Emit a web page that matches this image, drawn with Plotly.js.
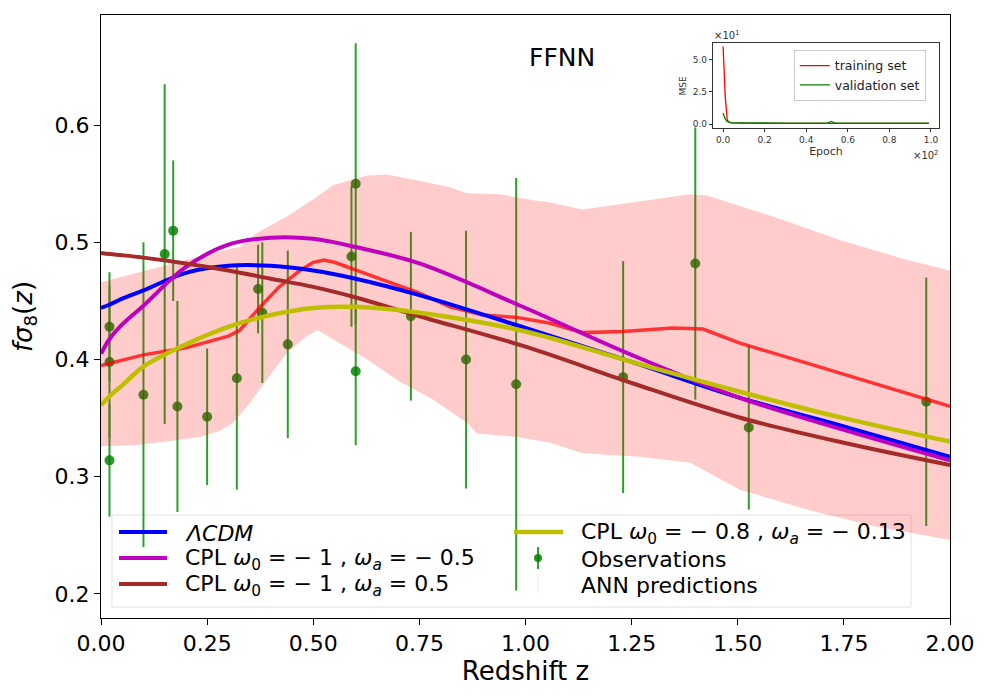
<!DOCTYPE html>
<html>
<head>
<meta charset="utf-8">
<script src="https://cdn.plot.ly/plotly-3.0.1.min.js"></script>
<style>html,body{margin:0;padding:0;background:#fff}#chart{width:1000px;height:700px}</style>
</head>
<body>
<div id="chart"></div>
<script>
// Observations
const obsZ   = [0.02, 0.02, 0.02, 0.10, 0.15, 0.17, 0.18, 0.25, 0.32, 0.37, 0.38, 0.44, 0.59, 0.60, 0.60, 0.73, 0.86, 0.978, 1.23, 1.40, 1.526, 1.944];
const obsF   = [0.428, 0.398, 0.314, 0.37, 0.49, 0.51, 0.36, 0.3512, 0.384, 0.4602, 0.44, 0.413, 0.488, 0.39, 0.55, 0.437, 0.40, 0.379, 0.385, 0.482, 0.342, 0.364];
const obsErr = [0.0465, 0.065, 0.048, 0.13, 0.145, 0.06, 0.09, 0.0583, 0.095, 0.0378, 0.06, 0.08, 0.06, 0.063, 0.12, 0.072, 0.11, 0.176, 0.099, 0.116, 0.070, 0.106];

// Model curves
const zModel  = [0, 0.021, 0.05, 0.1, 0.2, 0.3, 0.4, 0.5, 0.6, 0.75, 1.0, 1.25, 1.5, 1.75, 2.0];
const lcdm    = [0.444, 0.447, 0.452, 0.459, 0.474, 0.480, 0.480, 0.476, 0.469, 0.455, 0.427, 0.398, 0.368, 0.343, 0.317];
const cplA    = [0.405, 0.418, 0.430, 0.446, 0.479, 0.498, 0.504, 0.503, 0.496, 0.482, 0.444, 0.404, 0.368, 0.340, 0.314];
const cplB    = [0.491, 0.490, 0.489, 0.487, 0.482, 0.476, 0.469, 0.462, 0.453, 0.437, 0.411, 0.380, 0.351, 0.329, 0.310];
const cplC    = [0.361, 0.369, 0.378, 0.394, 0.413, 0.428, 0.438, 0.444, 0.445, 0.440, 0.424, 0.398, 0.373, 0.350, 0.330];

// ANN predictions: mean curve
const zMean   = [0, 0.1, 0.2, 0.3, 0.327, 0.375, 0.42, 0.469, 0.50, 0.525, 0.55, 0.587, 0.664, 0.749, 0.822, 0.9, 0.98, 1.058, 1.135, 1.229, 1.347, 1.418, 1.505, 1.663, 1.819, 1.946, 2.0];
const annMean = [0.395, 0.404, 0.410, 0.420, 0.425, 0.445, 0.462, 0.476, 0.483, 0.485, 0.483, 0.478, 0.468, 0.457, 0.445, 0.438, 0.436, 0.431, 0.423, 0.424, 0.427, 0.426, 0.414, 0.397, 0.380, 0.366, 0.360];
// ANN predictions: uncertainty band
const zUpper  = [0, 0.155, 0.233, 0.311, 0.327, 0.367, 0.438, 0.509, 0.547, 0.627, 0.674, 0.744, 0.822, 0.862, 0.940, 1.018, 1.058, 1.135, 1.270, 1.388, 1.428, 1.583, 1.741, 1.899, 2.0];
const annUp   = [0.466, 0.481, 0.488, 0.495, 0.496, 0.508, 0.522, 0.539, 0.549, 0.557, 0.558, 0.553, 0.547, 0.542, 0.541, 0.536, 0.534, 0.528, 0.535, 0.541, 0.540, 0.522, 0.502, 0.485, 0.476];
const zLower  = [0, 0.078, 0.155, 0.233, 0.280, 0.311, 0.351, 0.391, 0.438, 0.485, 0.511, 0.547, 0.627, 0.704, 0.782, 0.862, 0.886, 0.980, 1.058, 1.135, 1.270, 1.388, 1.505, 1.663, 1.819, 2.0];
const annLow  = [0.326, 0.327, 0.330, 0.334, 0.339, 0.346, 0.363, 0.383, 0.406, 0.420, 0.425, 0.417, 0.400, 0.381, 0.366, 0.346, 0.337, 0.334, 0.329, 0.320, 0.317, 0.312, 0.289, 0.272, 0.258, 0.246];

// Inset: training history
const epochs   = [0, 1, 2, 3, 4, 6, 10, 20, 24, 30, 40, 50, 52, 54, 60, 70, 80, 90, 99];
const trainMSE = [60, 22, 3.0, 1.5, 1.0, 0.8, 0.7, 0.6, 0.6, 0.6, 0.6, 0.6, 0.9, 0.6, 0.5, 0.5, 0.5, 0.5, 0.5];
const valMSE   = [8.5, 4.0, 1.8, 1.2, 1.0, 0.9, 0.8, 0.8, 1.0, 0.8, 0.8, 0.8, 2.0, 0.8, 0.7, 0.7, 0.7, 0.7, 0.7];

const xTicks = [0, 0.25, 0.5, 0.75, 1.0, 1.25, 1.5, 1.75, 2.0];
const yTicks = [0.2, 0.3, 0.4, 0.5, 0.6];

// Legend entries of the main panel (drawn by hand to match spacing)
const legendLabels = [
  '<i>ΛCDM</i>',
  'CPL <i>ω</i><sub>0</sub> = − 1 , <i>ω<sub>a</sub></i> = − 0.5',
  'CPL <i>ω</i><sub>0</sub> = − 1 , <i>ω<sub>a</sub></i> = 0.5',
  'CPL <i>ω</i><sub>0</sub> = − 0.8 , <i>ω<sub>a</sub></i> = − 0.13',
  'Observations',
  'ANN predictions'
];
const legendColors = ['#0000ff', '#bf00bf', '#a52a2a', '#bfbf00'];

const FONT = 'DejaVu Sans, Arial, sans-serif';

const traces = [
  { x: obsZ, y: obsF, type: 'scatter', mode: 'markers', name: legendLabels[4],
    marker: { color: 'rgba(0,128,0,0.82)', size: 10 },
    error_y: { type: 'data', array: obsErr, visible: true, color: '#2ca02c', thickness: 2, width: 0 },
    showlegend: false },
  { x: zUpper.concat(zLower.slice().reverse()), y: annUp.concat(annLow.slice().reverse()),
    type: 'scatter', mode: 'lines', fill: 'toself', fillcolor: 'rgba(255,0,0,0.2)',
    line: { width: 0, color: 'rgba(255,0,0,0)' }, showlegend: false, hoverinfo: 'skip' },
  { x: zMean, y: annMean, type: 'scatter', mode: 'lines', showlegend: false,
    line: { color: 'rgba(255,0,0,0.75)', width: 3.5 } },
  { x: zModel, y: lcdm, type: 'scatter', mode: 'lines', name: legendLabels[0], showlegend: false,
    line: { color: legendColors[0], width: 4, shape: 'spline' } },
  { x: zModel, y: cplA, type: 'scatter', mode: 'lines', name: legendLabels[1], showlegend: false,
    line: { color: legendColors[1], width: 4, shape: 'spline' } },
  { x: zModel, y: cplB, type: 'scatter', mode: 'lines', name: legendLabels[2], showlegend: false,
    line: { color: legendColors[2], width: 4, shape: 'spline' } },
  { x: zModel, y: cplC, type: 'scatter', mode: 'lines', name: legendLabels[3], showlegend: false,
    line: { color: legendColors[3], width: 4.5, shape: 'spline' } },
  // inset
  { x: epochs, y: trainMSE, xaxis: 'x2', yaxis: 'y2', type: 'scatter', mode: 'lines', name: 'training set',
    line: { color: '#ff0000', width: 1.3 } },
  { x: epochs, y: valMSE, xaxis: 'x2', yaxis: 'y2', type: 'scatter', mode: 'lines', name: 'validation set',
    line: { color: '#008000', width: 1.3 } }
];

// pixel -> paper helpers for legend placement
const PX = px => (px - 101) / 849;
const PY = py => (618 - py) / 603;
const rowsY = [532, 558, 584];

const shapes = [
  { type: 'rect', xref: 'paper', yref: 'paper', x0: PX(112), x1: PX(911), y0: PY(607), y1: PY(515),
    fillcolor: 'rgba(255,255,255,0)', line: { color: 'rgba(215,215,215,0.7)', width: 1 }, layer: 'below' }
];
const annotations = [
  { text: 'FFNN', xref: 'paper', yref: 'paper', x: PX(562), y: PY(57), xanchor: 'center', yanchor: 'middle', showarrow: false,
    font: { size: 25, family: FONT, color: '#000' } },
  { text: '×10<sup>1</sup>', xref: 'paper', yref: 'paper', x: PX(712), y: PY(35), xanchor: 'left', yanchor: 'middle', showarrow: false,
    font: { size: 10, family: FONT, color: '#333' } },
  { text: '×10<sup>2</sup>', xref: 'paper', yref: 'paper', x: PX(941), y: PY(155), xanchor: 'right', yanchor: 'middle', showarrow: false,
    font: { size: 10, family: FONT, color: '#333' } }
];
// column 1 : three model lines; column 2 : yellow model, observations, ANN
for (let i = 0; i < 6; i++) {
  const col = i < 3 ? 0 : 1;
  const row = i < 3 ? i : i - 3;
  const x0 = col === 0 ? 119 : 514, x1 = col === 0 ? 167 : 563, xt = col === 0 ? 183 : 579;
  const y = rowsY[row];
  if (i < 4) {
    shapes.push({ type: 'line', xref: 'paper', yref: 'paper', x0: PX(x0), x1: PX(x1), y0: PY(y), y1: PY(y),
      line: { color: legendColors[i], width: i === 3 ? 4.5 : 4 }, layer: 'above' });
  } else if (i === 4) {
    const xc = (x0 + x1) / 2 - 0.5;
    shapes.push({ type: 'line', xref: 'paper', yref: 'paper', x0: PX(xc), x1: PX(xc), y0: PY(y - 11), y1: PY(y + 11),
      line: { color: '#2ca02c', width: 2 }, layer: 'above' });
    shapes.push({ type: 'circle', xref: 'paper', yref: 'paper', x0: PX(xc - 4), x1: PX(xc + 4), y0: PY(y - 4), y1: PY(y + 4),
      fillcolor: 'rgba(0,128,0,0.85)', line: { width: 0 }, layer: 'above' });
  } else {
    const xc = (x0 + x1) / 2 - 0.5;
    shapes.push({ type: 'line', xref: 'paper', yref: 'paper', x0: PX(xc), x1: PX(xc), y0: PY(y - 10), y1: PY(y + 10),
      line: { color: 'rgba(255,0,0,0.07)', width: 1.5 }, layer: 'above' });
  }
  annotations.push({ text: legendLabels[i], xref: 'paper', yref: 'paper', x: PX(xt), y: PY(y + 1),
    xanchor: 'left', yanchor: 'middle', showarrow: false, align: 'left',
    font: { size: 22, family: FONT, color: '#000' } });
}

const layout = {
  width: 1000, height: 700,
  margin: { l: 101, r: 50, t: 15, b: 82 },
  paper_bgcolor: '#fff', plot_bgcolor: '#fff',
  font: { family: FONT, color: '#000' },
  showlegend: true,
  xaxis: {
    range: [0, 2.0], tickvals: xTicks, tickformat: '.2f',
    ticks: 'outside', ticklen: 6, tickwidth: 1, tickcolor: '#000',
    showline: true, linecolor: '#000', linewidth: 1, mirror: true,
    showgrid: false, zeroline: false,
    tickfont: { size: 22, family: FONT },
    title: { text: 'Redshift z', font: { size: 26, family: FONT }, standoff: 5 }
  },
  yaxis: {
    range: [0.1795, 0.694], tickvals: yTicks, tickformat: '.1f',
    ticks: 'outside', ticklen: 6, tickwidth: 1, tickcolor: '#000',
    showline: true, linecolor: '#000', linewidth: 1, mirror: true,
    showgrid: false, zeroline: false,
    tickfont: { size: 22, family: FONT },
    title: { text: '<i>fσ</i><sub>8</sub>(<i>z</i>)', font: { size: 26, family: FONT }, standoff: 14 }
  },
  xaxis2: {
    domain: [0.7205, 0.9874], anchor: 'y2', range: [-5, 104],
    tickvals: [0, 20, 40, 60, 80, 100], ticktext: ['0.0', '0.2', '0.4', '0.6', '0.8', '1.0'],
    ticks: 'outside', ticklen: 3, tickcolor: '#333', tickfont: { size: 9, color: '#333' },
    showline: true, linecolor: '#000', linewidth: 0.8, mirror: true, showgrid: false, zeroline: false,
    title: { text: 'Epoch', font: { size: 11, color: '#333' }, standoff: 2 }
  },
  yaxis2: {
    domain: [0.812, 0.953], anchor: 'x2', range: [-3.3, 62.4],
    tickvals: [0, 25, 50], ticktext: ['0.0', '2.5', '5.0'],
    ticks: 'outside', ticklen: 3, tickcolor: '#333', tickfont: { size: 9, color: '#333' },
    showline: true, linecolor: '#000', linewidth: 0.8, mirror: true, showgrid: false, zeroline: false,
    title: { text: 'MSE', font: { size: 9, color: '#333' }, standoff: 4 }
  },
  legend: {
    x: 0.816, y: 0.942, xanchor: 'left', yanchor: 'top',
    bgcolor: 'rgba(255,255,255,0.85)', bordercolor: '#cccccc', borderwidth: 1, itemwidth: 30,
    font: { size: 12.5, family: FONT, color: '#222' }, tracegroupgap: 0
  },
  shapes: shapes,
  annotations: annotations
};

Plotly.newPlot('chart', traces, layout, { displayModeBar: false, staticPlot: true });
</script>
</body>
</html>
